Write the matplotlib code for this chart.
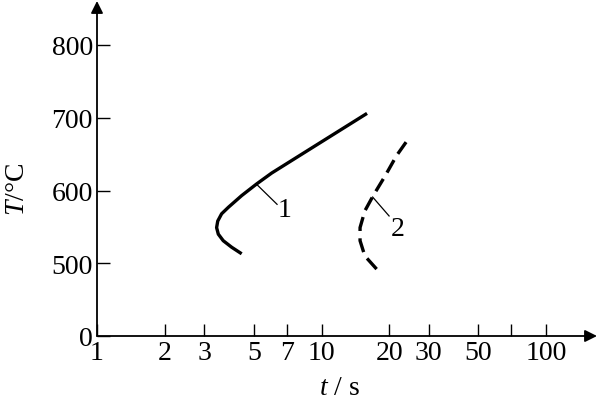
import matplotlib
matplotlib.use("Agg")
import matplotlib.pyplot as plt

plt.rcParams["font.family"] = ["Liberation Serif", "DejaVu Serif"]
plt.rcParams["mathtext.fontset"] = "custom"
plt.rcParams["mathtext.it"] = "Liberation Serif:italic"
plt.rcParams["mathtext.rm"] = "Liberation Serif"

# curve 1 (solid) and curve 2 (dashed): time in s, temperature in °C
curve1_t = [4.41, 3.98, 3.65, 3.47, 3.41, 3.45, 3.59, 3.85, 4.41, 5.14, 6.0, 8.89, 15.95]
curve1_T = [513, 522, 531, 540, 549, 558, 568, 577, 593, 609, 624, 657, 706]
curve2_t = [17.6, 15.6, 14.85, 14.85, 15.6, 17.0, 19.2, 21.6, 24.0]
curve2_T = [492, 510, 531, 549, 572, 593, 620, 648, 668]

x_ticks = [1, 2, 3, 5, 7, 10, 20, 30, 50, 70, 100]
x_labels = ["1", "2", "3", "5", "7", "10", "20", "30", "50", "", "100"]
y_ticks = [400, 500, 600, 700, 800]
y_labels = ["0", "500", "600", "700", "800"]

fig = plt.figure(figsize=(5.98, 4.10), dpi=100)
ax = fig.add_axes([97 / 598, 73 / 410, 500 / 598, 335 / 410])
ax.set_xscale("log")
ax.set_xlim(1, 10 ** (500 / 224.5))
ax.set_ylim(400, 400 + 335 / 0.7275)

ax.plot(curve1_t, curve1_T, color="black", lw=2.4, solid_capstyle="butt",
        solid_joinstyle="round")
ax.plot(curve2_t, curve2_T, color="black", lw=2.4, dashes=(4.3, 2.2),
        dash_joinstyle="round")

# curve labels with leader lines
ax.plot([5.16, 6.34], [608, 581], color="black", lw=0.9)
ax.text(6.85, 574, "1", ha="center", va="center", fontsize=20)
ax.plot([16.9, 20.0], [591, 565], color="black", lw=0.9)
ax.text(21.8, 548, "2", ha="center", va="center", fontsize=20)

# axes as arrows
for s in ax.spines.values():
    s.set_visible(False)
ax.annotate("", xy=(1, 0), xytext=(0, 0), xycoords="axes fraction",
            arrowprops=dict(arrowstyle="-|>", lw=1.3, color="black",
                            mutation_scale=18, shrinkA=0, shrinkB=0))
ax.annotate("", xy=(0, 1), xytext=(0, 0), xycoords="axes fraction",
            arrowprops=dict(arrowstyle="-|>", lw=1.3, color="black",
                            mutation_scale=18, shrinkA=0, shrinkB=0))

ax.set_xticks(x_ticks)
ax.set_xticklabels(x_labels)
ax.xaxis.set_minor_locator(matplotlib.ticker.NullLocator())
ax.set_yticks(y_ticks)
ax.set_yticklabels(y_labels)
ax.tick_params(direction="in", length=9, width=1.0, labelsize=20)
ax.tick_params(axis="x", pad=3)
ax.tick_params(axis="y", pad=3)

ax.set_xlabel(r"$t$ / s", fontsize=20)
ax.xaxis.set_label_coords(0.486, -0.115)
ax.set_ylabel(r"$T$/°C", fontsize=20)
ax.yaxis.set_label_coords(-0.135, 0.44)

fig.savefig("out.png", dpi=100, facecolor="white")
